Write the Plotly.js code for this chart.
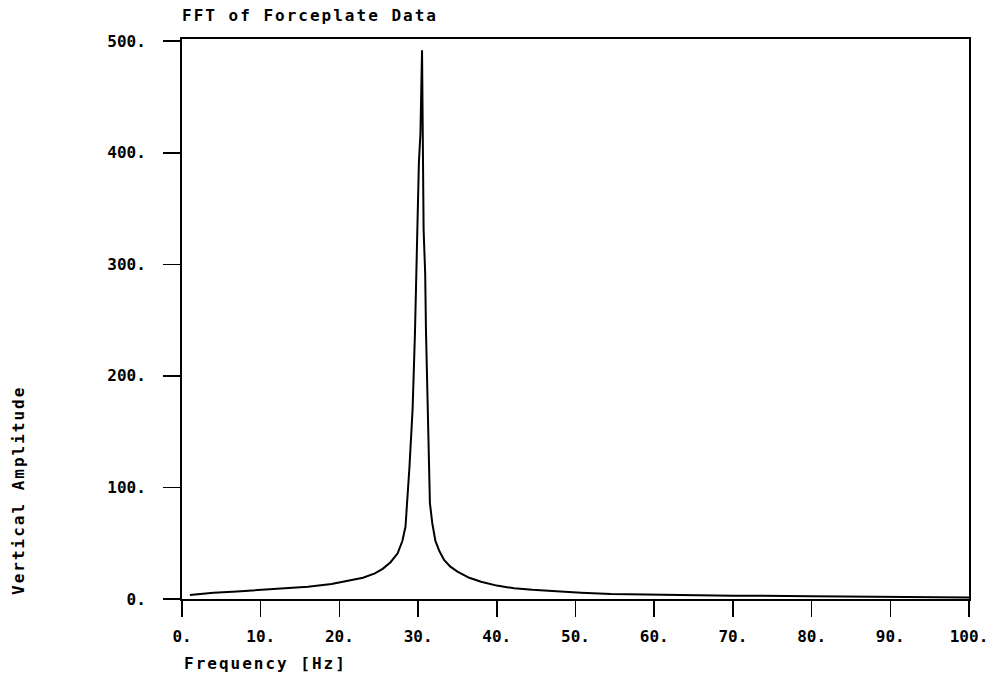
<!DOCTYPE html>
<html>
<head>
<meta charset="utf-8">
<script src="https://cdn.plot.ly/plotly-3.0.1.min.js"></script>
<style>
html, body { margin: 0; padding: 0; background: #fff; }
#chart { width: 990px; height: 678px; }
.gtitle, .annotation-text { letter-spacing: 2px; }
</style>
</head>
<body>
<div id="chart"></div>
<script>
// Frequency (Hz) and vertical amplitude
const frequency = [1, 4, 7, 10, 13, 16, 19, 21, 23, 24.5, 25.5, 26.5, 27.4, 28, 28.4, 28.9, 29.3, 29.6, 29.9, 30.1, 30.3, 30.5, 30.7, 30.9, 31.0, 31.2, 31.5, 31.8, 32.2, 32.7, 33.3, 34.1, 35, 36.5, 38, 40, 42.2, 44.5, 46.5, 50.7, 54.5, 60, 70, 80, 90, 100];
const amplitude = [3.5, 5.5, 6.8, 8, 9.5, 11, 13.5, 16, 19, 23, 27, 33, 41, 52, 65, 118, 170, 238, 335, 391, 418, 492, 331, 292, 241, 170, 86, 68, 52, 43, 35, 29, 24.5, 19, 15.5, 12, 9.6, 8.2, 7.2, 5.7, 4.5, 3.8, 3.0, 2.5, 1.9, 1.3];

const xTickVals = [0, 10, 20, 30, 40, 50, 60, 70, 80, 90, 100];
const xTickText = ["0.", "10.", "20.", "30.", "40.", "50.", "60.", "70.", "80.", "90.", "100."];
const yTickVals = [0, 100, 200, 300, 400, 500];
const yTickText = ["0.", "100.", "200.", "300.", "400.", "500."];

const chartTitle = "FFT of Forceplate Data";
const xTitle = "Frequency [Hz]";
const yTitle = "Vertical Amplitude";

const mono = "DejaVu Sans Mono, monospace";

const trace = {
  x: frequency,
  y: amplitude,
  type: "scatter",
  mode: "lines",
  line: { color: "#000", width: 2 },
  hoverinfo: "skip"
};

const layout = {
  width: 990,
  height: 678,
  paper_bgcolor: "#fff",
  plot_bgcolor: "#fff",
  showlegend: false,
  margin: { l: 182, r: 21, t: 39, b: 79, pad: 0 },
  title: {
    text: chartTitle,
    font: { family: mono, size: 16, color: "#000", weight: "bold" },
    xref: "container", yref: "container",
    x: 182 / 990, xanchor: "left",
    y: 1 - 15 / 678, yanchor: "middle"
  },
  xaxis: {
    range: [0, 100],
    tickmode: "array",
    tickvals: xTickVals,
    ticktext: xTickText,
    ticks: "outside",
    ticklen: 16,
    tickwidth: 1.5,
    tickcolor: "#000",
    ticklabelstandoff: 6,
    showline: true,
    linecolor: "#000",
    linewidth: 2,
    mirror: true,
    showgrid: false,
    zeroline: false,
    tickfont: { family: mono, size: 16, color: "#000", weight: "bold" }
  },
  yaxis: {
    range: [0, 502],
    tickmode: "array",
    tickvals: yTickVals,
    ticktext: yTickText,
    ticks: "outside",
    ticklen: 17,
    tickwidth: 1.5,
    tickcolor: "#000",
    ticklabelstandoff: 14,
    showline: true,
    linecolor: "#000",
    linewidth: 2,
    mirror: true,
    showgrid: false,
    zeroline: false,
    tickfont: { family: mono, size: 16, color: "#000", weight: "bold" }
  },
  annotations: [
    {
      text: xTitle,
      xref: "paper", yref: "paper",
      x: 0, xanchor: "left",
      y: 0, yanchor: "middle", yshift: -64,
      showarrow: false,
      font: { family: mono, size: 16, color: "#000", weight: "bold" }
    },
    {
      text: yTitle,
      xref: "paper", yref: "paper",
      x: 0, xanchor: "center", xshift: -164,
      y: (599 - 491) / 560, yanchor: "middle",
      textangle: -90,
      showarrow: false,
      font: { family: mono, size: 16, color: "#000", weight: "bold" }
    }
  ]
};

Plotly.newPlot("chart", [trace], layout, { staticPlot: true, displayModeBar: false });
</script>
</body>
</html>
